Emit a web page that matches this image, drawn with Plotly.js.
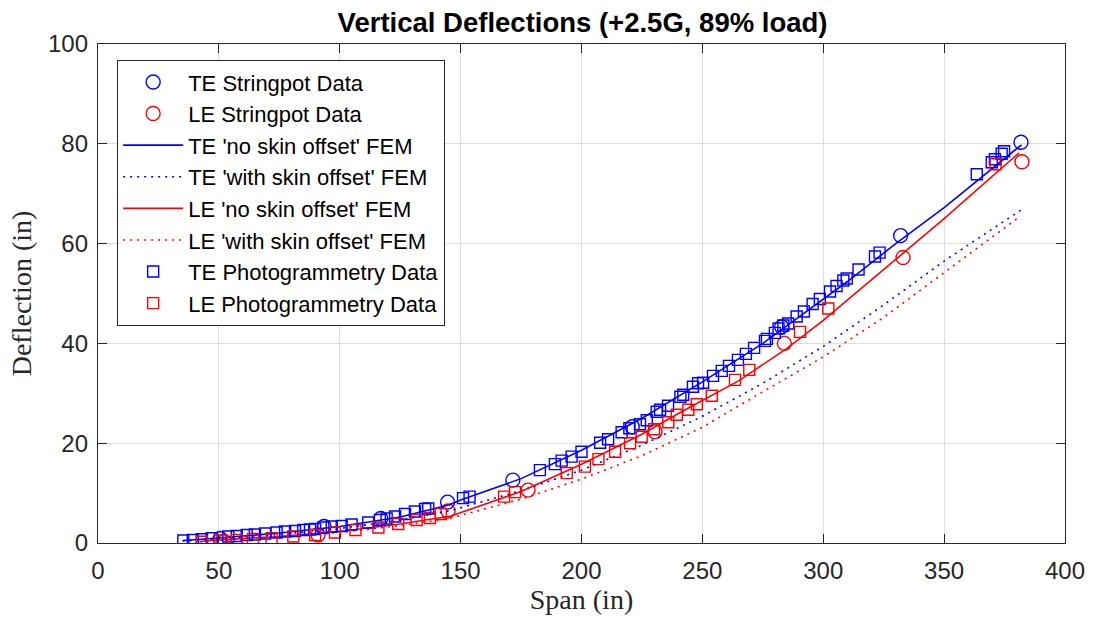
<!DOCTYPE html>
<html>
<head>
<meta charset="utf-8">
<script src="https://cdn.plot.ly/plotly-3.0.1.min.js"></script>
<style>html,body{margin:0;padding:0;background:#fff;}#chart{width:1095px;height:621px;}</style>
</head>
<body>
<div id="chart"></div>
<script>
// TE / LE stringpot measurements
const teStringX = [50.5, 93.5, 117, 144.6, 171.6, 221, 282.8, 332, 381.8];
const teStringY = [0.9, 3.3, 4.9, 8.2, 12.6, 23.3, 43.3, 61.6, 80.3];
const leStringX = [52.3, 91, 144.8, 177.9, 230.4, 283.9, 333, 382.2];
const leStringY = [0.3, 1.6, 6.4, 10.6, 22.3, 40.0, 57.2, 76.4];

// FEM predictions
const teFemX = [35, 50, 75, 100, 125, 145, 150, 175, 200, 225, 250, 275, 290, 310, 330, 350, 382];
const teFemNoY = [0.5, 1.0, 2.0, 3.3, 5.2, 7.6, 8.6, 12.9, 18.6, 25.0, 32.3, 40.0, 45.3, 52.4, 60.0, 67.2, 79.8];
const teSkinX = [35, 50, 75, 100, 125, 146, 175, 200, 225, 250, 275, 300, 325, 350, 382];
const teSkinY = [0.4, 0.8, 1.7, 2.9, 4.6, 6.5, 10.5, 14.6, 19.6, 25.4, 32.0, 39.4, 47.7, 56.5, 66.8];
const leFemX = [42, 50, 75, 100, 125, 146, 175, 200, 225, 241, 265, 285, 300, 323, 350, 381];
const leFemNoY = [0.3, 0.6, 1.3, 2.3, 3.8, 5.4, 10.3, 15.8, 21.8, 26.2, 32.5, 39.0, 44.6, 53.9, 65.0, 78.2];
const leSkinX = [42, 50, 75, 100, 125, 146, 175, 200, 225, 250, 275, 300, 325, 350, 381];
const leSkinY = [0.25, 0.5, 1.2, 2.1, 3.5, 5.0, 8.8, 12.8, 17.5, 23.2, 30.3, 37.3, 45.2, 54.2, 65.3];

// Photogrammetry
const tePhotoX = [35.3, 39.2, 43, 47, 53.9, 57.4, 61.5, 64.9, 69.1, 73.9, 77.4, 81.5, 84.9, 87.7, 89.8, 93.2, 96.7, 100.8, 104.9, 111.8, 116.6, 119.4, 122.9, 127, 131.1, 135.3, 136.6, 151, 153.7, 182.8, 189, 191.8, 195.9, 200, 207.7, 211, 216.6, 219.8, 224.2, 227, 231.1, 232.5, 235.8, 240.9, 242.1, 246.1, 248.2, 250.3, 254.4, 258, 261, 264.7, 268, 271.4, 275.9, 276.7, 280, 281.5, 283.5, 285.5, 289, 292, 295.6, 298.6, 302.8, 305.5, 308.3, 309.7, 314.6, 321.4, 323.3, 363.5, 369.7, 371, 373.8, 374.8];
const tePhotoY = [0.5, 0.6, 0.75, 0.95, 1.3, 1.4, 1.6, 1.7, 1.9, 2.1, 2.3, 2.4, 2.6, 2.7, 2.8, 3.1, 3.3, 3.4, 3.7, 4.1, 4.6, 4.9, 5.3, 5.8, 6.3, 6.8, 6.9, 9.0, 9.3, 14.6, 15.8, 16.5, 17.3, 18.3, 20.1, 20.8, 22.2, 23.0, 23.8, 24.6, 26.3, 26.7, 27.5, 29.3, 29.7, 31.3, 32.0, 32.1, 33.5, 34.5, 35.5, 36.7, 37.9, 39.1, 40.5, 40.9, 42.1, 43.0, 43.6, 44.0, 45.4, 46.4, 47.9, 48.9, 50.4, 51.5, 52.6, 53.0, 54.8, 57.4, 58.2, 73.9, 76.3, 76.9, 78.0, 78.5];
const lePhotoX = [42.9, 50.6, 57.4, 64.1, 71.8, 80.8, 89.8, 98, 106.5, 116, 124.2, 131.8, 137.3, 141.8, 168, 172.5, 193.9, 201.4, 207, 213.9, 220.1, 224.9, 230, 235.9, 239.4, 244.2, 247.7, 253.9, 263.5, 269.4, 290.4, 302.1, 371.3];
const lePhotoY = [0.26, 0.5, 0.6, 0.8, 0.95, 1.3, 1.6, 2.1, 2.6, 3.1, 3.8, 4.6, 5.0, 5.8, 9.3, 10.2, 14.0, 15.3, 16.8, 18.3, 20.0, 21.3, 22.8, 24.2, 25.7, 26.7, 27.8, 29.5, 32.7, 34.7, 42.3, 47.0, 75.9];

const names = ["TE Stringpot Data", "LE Stringpot Data", "TE 'no skin offset' FEM", "TE 'with skin offset' FEM",
  "LE 'no skin offset' FEM", "LE 'with skin offset' FEM", "TE Photogrammetry Data", "LE Photogrammetry Data"];

const BLUE = '#0000ff', RED = '#ff0000';
const DOT = '2px,5px';
const traces = [
  {x: teStringX, y: teStringY, mode: 'markers', name: names[0], legendgroup: 'a',
   marker: {symbol: 'circle-open', size: 14, color: BLUE, line: {width: 1.4, color: BLUE}}},
  {x: leStringX, y: leStringY, mode: 'markers', name: names[1], legendgroup: 'b',
   marker: {symbol: 'circle-open', size: 14, color: RED, line: {width: 1.4, color: RED}}},
  {x: teFemX, y: teFemNoY, mode: 'lines', name: names[2], legendgroup: 'c',
   line: {color: BLUE, width: 1.6}},
  {x: teSkinX, y: teSkinY, mode: 'lines', name: names[3], legendgroup: 'd',
   line: {color: BLUE, width: 1.6, dash: DOT}},
  {x: leFemX, y: leFemNoY, mode: 'lines', name: names[4], legendgroup: 'e',
   line: {color: RED, width: 1.6}},
  {x: leSkinX, y: leSkinY, mode: 'lines', name: names[5], legendgroup: 'f',
   line: {color: RED, width: 1.6, dash: DOT}},
  {x: tePhotoX, y: tePhotoY, mode: 'markers', name: names[6], legendgroup: 'g',
   marker: {symbol: 'square-open', size: 11, color: BLUE, line: {width: 1.4, color: BLUE}}},
  {x: lePhotoX, y: lePhotoY, mode: 'markers', name: names[7], legendgroup: 'h',
   marker: {symbol: 'square-open', size: 11, color: RED, line: {width: 1.4, color: RED}}}
];

const axisCommon = {
  showgrid: true, gridcolor: '#dedede', gridwidth: 1,
  zeroline: false, showline: true, linecolor: '#262626', linewidth: 1.2, mirror: 'ticks',
  ticks: 'inside', ticklen: 9, tickcolor: '#262626', tickwidth: 1.2,
  tickfont: {family: 'Liberation Sans, Arial, sans-serif', size: 24, color: '#262626'}
};

const layout = {
  width: 1095, height: 621,
  margin: {l: 98, r: 30, t: 44, b: 78},
  paper_bgcolor: '#fff', plot_bgcolor: '#fff',
  title: {text: '<b>Vertical Deflections (+2.5G, 89% load)</b>', x: 0.532, xanchor: 'center', y: 0.9646, yanchor: 'middle',
    font: {family: 'Liberation Sans, Arial, sans-serif', size: 27.5, color: '#000'}},
  xaxis: Object.assign({}, axisCommon, {range: [0, 400], tickvals: [0, 50, 100, 150, 200, 250, 300, 350, 400],
    ticklabelstandoff: 6,
    title: {text: 'Span (in)', standoff: 4, font: {family: 'Liberation Serif, DejaVu Serif, serif', size: 28, color: '#262626'}}}),
  yaxis: Object.assign({}, axisCommon, {range: [0, 100], tickvals: [0, 20, 40, 60, 80, 100],
    ticklabelstandoff: 4,
    title: {text: 'Deflection (in)', standoff: 8, font: {family: 'Liberation Serif, DejaVu Serif, serif', size: 28, color: '#262626'}}}),
  showlegend: true,
  legend: {x: 0.0196, y: 0.968, xanchor: 'left', yanchor: 'top', bgcolor: '#fff', bordercolor: '#262626', borderwidth: 1.2,
    itemwidth: 60,
    font: {family: 'Liberation Sans, Arial, sans-serif', size: 22, color: '#000'}, tracegroupgap: 0, traceorder: 'grouped'}
};

Plotly.newPlot('chart', traces, layout, {displayModeBar: false, staticPlot: true});
</script>
</body>
</html>
